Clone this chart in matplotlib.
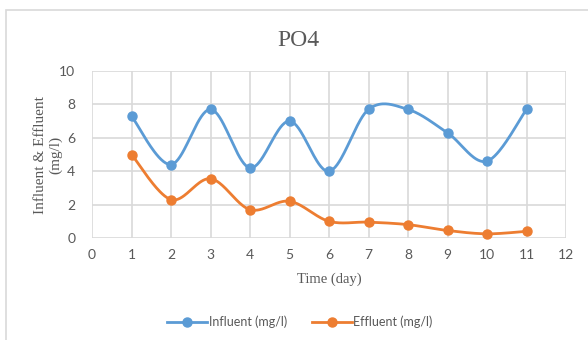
import numpy as np
import matplotlib
matplotlib.use("Agg")
import matplotlib.pyplot as plt
from matplotlib.patches import Rectangle

# Daily PO4 concentrations
days = [1, 2, 3, 4, 5, 6, 7, 8, 9, 10, 11]
influent = [7.3, 4.4, 7.7, 4.2, 7.0, 4.0, 7.7, 7.7, 6.3, 4.6, 7.7]
effluent = [5.0, 2.3, 3.55, 1.7, 2.2, 1.0, 0.95, 0.8, 0.45, 0.25, 0.4]
x_ticks = list(range(0, 13))
y_ticks = [0, 2, 4, 6, 8, 10]

BLUE = "#5B9BD5"
ORANGE = "#ED7D31"
GRID = "#D9D9D9"
TXT = "#595959"
SERIF = "Liberation Serif"
SANS = "Lato"


def smooth(x, y, n=40):
    """Cardinal (Catmull-Rom style) Bezier smoothing through the points."""
    x = np.asarray(x, float)
    y = np.asarray(y, float)
    px = np.concatenate([[x[0]], x, [x[-1]]])
    py = np.concatenate([[y[0]], y, [y[-1]]])
    t = np.linspace(0, 1, n)
    xs, ys = [], []
    for i in range(1, len(x)):
        p0 = np.array([px[i], py[i]])
        p3 = np.array([px[i + 1], py[i + 1]])
        c1 = p0 + (p3 - np.array([px[i - 1], py[i - 1]])) / 6.0
        c2 = p3 - (np.array([px[i + 2], py[i + 2]]) - p0) / 6.0
        b = ((1 - t) ** 3)[:, None] * p0 + (3 * (1 - t) ** 2 * t)[:, None] * c1 \
            + (3 * (1 - t) * t ** 2)[:, None] * c2 + (t ** 3)[:, None] * p3
        xs.append(b[:, 0])
        ys.append(b[:, 1])
    return np.concatenate(xs), np.concatenate(ys)


fig = plt.figure(figsize=(5.88, 3.40), dpi=100)
fig.patch.set_facecolor("white")

# chart frame
fig.add_artist(Rectangle((6 / 588, -0.05), 1.2, 1 - 10 / 340 + 0.05,
                         transform=fig.transFigure, fill=False,
                         edgecolor="#D9D9D9", lw=1.2))

ax = fig.add_axes([92 / 588, 1 - 238 / 340, 474 / 588, 167 / 340])
ax.set_xlim(0, 12)
ax.set_ylim(0, 10)
ax.set_xticks(x_ticks)
ax.set_yticks(y_ticks)
ax.grid(True, color=GRID, lw=1.2)
ax.set_axisbelow(True)
for s in ax.spines.values():
    s.set_visible(False)
ax.tick_params(length=0, labelsize=10, labelcolor=TXT, pad=8)
for lab in ax.get_xticklabels() + ax.get_yticklabels():
    lab.set_fontfamily(SANS)
ax.tick_params(axis="y", pad=12)

for data, col, name in [(influent, BLUE, "Influent (mg/l)"),
                        (effluent, ORANGE, "Effluent (mg/l)")]:
    sx, sy = smooth(days, data)
    ax.plot(sx, sy, color=col, lw=2.0, solid_capstyle="round", clip_on=False)
    ax.plot(days, data, "o", color=col, ms=6.5, clip_on=False)
    ax.plot([], [], "-o", color=col, lw=2.0, ms=6.5, label=name)

fig.text(298 / 588, 1 - 41 / 340, "PO4", ha="center", va="center",
         fontsize=17, family=SERIF, color=TXT)
ax.set_xlabel("Time (day)", fontsize=10.5, family=SERIF, color=TXT, labelpad=8)
fig.text(48 / 588, 1 - 155 / 340, "Influent & Effluent\n(mg/l)", rotation=90,
         ha="center", va="center", multialignment="center",
         fontsize=11, family=SERIF, color=TXT, linespacing=1.15)

leg = fig.legend(loc="center", bbox_to_anchor=(300 / 588, 1 - 322 / 340),
                 ncol=2, frameon=False, prop={"family": SANS, "size": 9},
                 handlelength=3.2, columnspacing=2.0, handletextpad=0.1)
for t in leg.get_texts():
    t.set_color(TXT)

fig.savefig("out.png", dpi=100, facecolor="white")
